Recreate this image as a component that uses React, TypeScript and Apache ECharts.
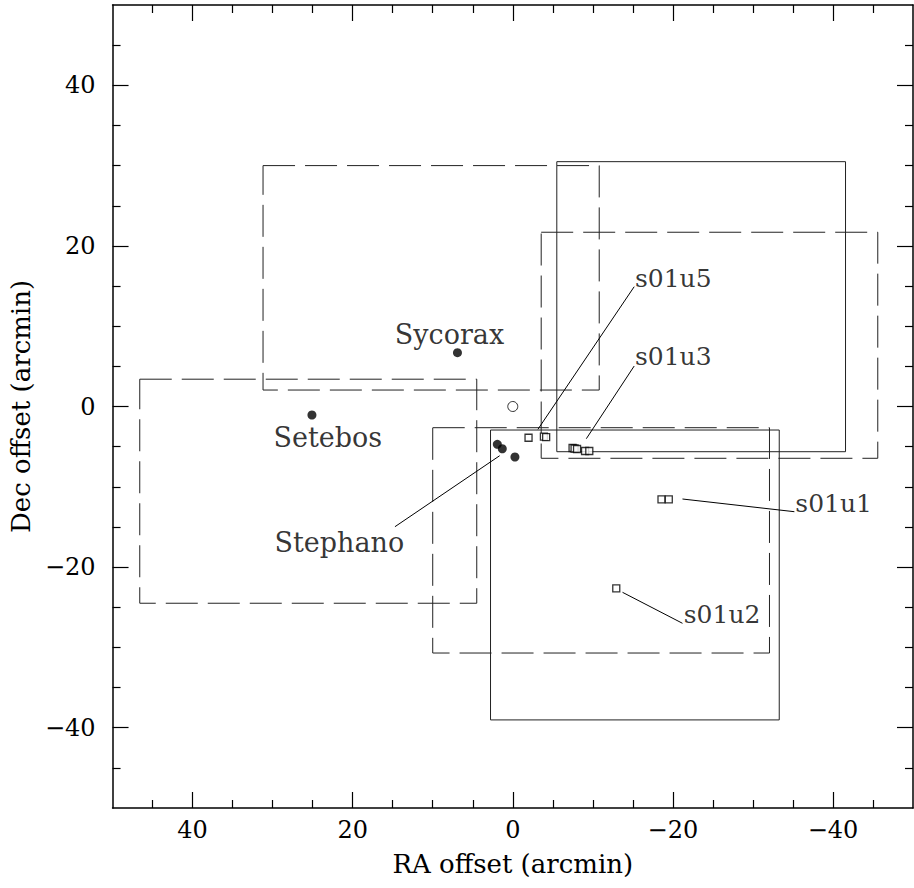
import React, { useEffect, useRef } from 'react';
import * as echarts from 'echarts';

// ---- data (arcmin) ----
const majorTicks = [-40, -20, 0, 20, 40];
const minorTicks = [-45, -35, -30, -25, -15, -10, -5, 5, 10, 15, 25, 30, 35, 45];

// fields: [xLeft, xRight, yTop, yBottom]
const dashedFields = [
  [31.2, -10.8, 30.0, 2.05],
  [46.6, 4.5, 3.4, -24.5],
  [-3.55, -45.6, 21.7, -6.45],
  [10.0, -32.07, -2.64, -30.7],
];
const solidFields = [
  [-5.5, -41.57, 30.49, -5.63],
  [2.78, -33.29, -2.93, -39.03],
];

const moonPoints = [
  [6.91, 6.7],
  [25.09, -1.06],
  [1.93, -4.71],
  [1.31, -5.26],
  [-0.27, -6.29],
];
const centrePoint = [[0, 0]];
const candidatePoints = [
  [-1.97, -3.89],
  [-3.89, -3.76],
  [-4.17, -3.82],
  [-7.47, -5.17],
  [-7.72, -5.23],
  [-8.03, -5.29],
  [-9.03, -5.54],
  [-9.56, -5.54],
  [-18.58, -11.56],
  [-19.49, -11.56],
  [-12.93, -22.64],
];

const leaderLines = [
  [[-15.17, 14.92], [-3.14, -2.84]],
  [[-15.17, 5.04], [-9.19, -4.01]],
  [[-21.2, -11.52], [-35.18, -13.1]],
  [[-13.71, -23.14], [-21.2, -27.0]],
  [[14.72, -14.97], [1.64, -6.13]],
];

const labelNames = ['s01u5', 's01u3', 's01u1', 's01u2', 'Stephano', 'Sycorax', 'Setebos'];
const labelX = [-15.26, -15.26, -35.3, -21.36, 21.67, 7.91, 23.1];
const labelY = [16.0, 6.19, -12.02, -25.9, -16.96, 8.99, -3.92];
const labelAlign = ['left', 'left', 'left', 'left', 'center', 'center', 'center'];
const labelSize = [25, 25, 25, 25, 27, 27, 27];

const FONT = 'DejaVu Serif';

function fmt(v: number) {
  return v < 0 ? '\u2212' + String(-v) : String(v);
}

function rectPath(r: number[]) {
  const [x1, x2, y1, y2] = r;
  return [
    [x1, y1],
    [x2, y1],
    [x2, y2],
    [x1, y2],
    [x1, y1],
  ];
}

export default function App() {
  const ref = useRef<HTMLDivElement>(null);
  useEffect(() => {
    if (!ref.current) return;
    const chart = echarts.init(ref.current, undefined, { renderer: 'svg' });
    const black = '#000';
    const frameLine = { show: true, onZero: false, lineStyle: { color: black, width: 1.5 } };
    const noLine = { show: false, onZero: false };
    const mkX = (pos: string, major: boolean, main: boolean) => ({
      type: 'value',
      min: -50,
      max: 50,
      inverse: true,
      position: pos,
      axisLine: major ? frameLine : noLine,
      axisTick: {
        show: true,
        inside: true,
        length: major ? 16 : 8,
        customValues: major ? majorTicks : minorTicks,
        lineStyle: { color: black, width: 1.2 },
      },
      axisLabel: main
        ? {
            show: true,
            customValues: majorTicks,
            formatter: (v: number) => fmt(v),
            fontFamily: FONT,
            fontSize: 24,
            color: black,
            margin: 10,
          }
        : { show: false },
      splitLine: { show: false },
      name: main ? 'RA offset (arcmin)' : '',
      nameLocation: 'middle',
      nameGap: 43,
      nameTextStyle: { fontFamily: FONT, fontSize: 26, color: black },
    });
    const mkY = (pos: string, major: boolean, main: boolean) => ({
      type: 'value',
      min: -50,
      max: 50,
      position: pos,
      axisLine: major ? frameLine : noLine,
      axisTick: {
        show: true,
        inside: true,
        length: major ? 16 : 8,
        customValues: major ? majorTicks : minorTicks,
        lineStyle: { color: black, width: 1.2 },
      },
      axisLabel: main
        ? {
            show: true,
            customValues: majorTicks,
            formatter: (v: number) => fmt(v),
            fontFamily: FONT,
            fontSize: 24,
            color: black,
            margin: 17,
          }
        : { show: false },
      splitLine: { show: false },
      name: main ? 'Dec offset (arcmin)' : '',
      nameLocation: 'middle',
      nameGap: 70,
      nameTextStyle: { fontFamily: FONT, fontSize: 26, color: black },
    });

    const series: any[] = [];
    dashedFields.forEach((r, i) => {
      series.push({
        name: 'dashed' + i,
        type: 'line',
        data: rectPath(r),
        symbol: 'none',
        silent: true,
        lineStyle: { color: '#222', width: 1, type: [32, 10] },
        z: 2,
      });
    });
    solidFields.forEach((r, i) => {
      series.push({
        name: 'solid' + i,
        type: 'line',
        data: rectPath(r),
        symbol: 'none',
        silent: true,
        lineStyle: { color: '#222', width: 1 },
        z: 2,
      });
    });
    leaderLines.forEach((l, i) => {
      series.push({
        name: 'leader' + i,
        type: 'line',
        data: l,
        symbol: 'none',
        silent: true,
        lineStyle: { color: '#000', width: 1 },
        z: 3,
      });
    });
    series.push({
      name: 'moons',
      type: 'scatter',
      data: moonPoints,
      symbol: 'circle',
      symbolSize: 9,
      itemStyle: { color: '#000' },
      z: 5,
    });
    series.push({
      name: 'centre',
      type: 'scatter',
      data: centrePoint,
      symbol: 'circle',
      symbolSize: 10,
      itemStyle: { color: '#fff', borderColor: '#000', borderWidth: 1 },
      z: 5,
    });
    series.push({
      name: 'candidates',
      type: 'scatter',
      data: candidatePoints,
      symbol: 'rect',
      symbolSize: 7,
      itemStyle: { color: '#fff', borderColor: '#000', borderWidth: 1.3 },
      z: 6,
    });
    series.push({
      name: 'labels',
      type: 'scatter',
      symbol: 'circle',
      symbolSize: 1,
      itemStyle: { color: 'rgba(0,0,0,0)' },
      z: 7,
      data: labelNames.map((n, i) => ({
        name: n,
        value: [labelX[i], labelY[i]],
        label: {
          show: true,
          position: 'inside',
          formatter: '{b}',
          align: labelAlign[i],
          verticalAlign: 'middle',
          fontFamily: FONT,
          fontSize: labelSize[i],
          color: '#000',
        },
      })),
    });

    chart.setOption({
      animation: false,
      backgroundColor: '#fff',
      grid: { left: 110, right: 1, top: 5, bottom: 80, containLabel: false },
      xAxis: [
        mkX('bottom', true, true),
        mkX('bottom', false, false),
        mkX('top', true, false),
        mkX('top', false, false),
      ],
      yAxis: [
        mkY('left', true, true),
        mkY('left', false, false),
        mkY('right', true, false),
        mkY('right', false, false),
      ],
      series,
    });
    return () => chart.dispose();
  }, []);
  return (
    <div
      ref={ref}
      style={{ position: 'fixed', left: 0, top: 0, width: 914, height: 888, background: '#fff' }}
    />
  );
}
